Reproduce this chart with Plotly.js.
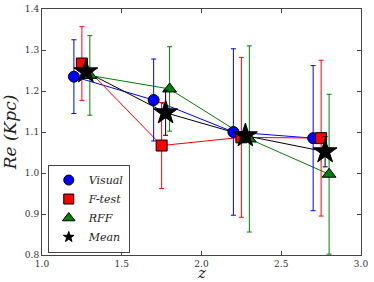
<!DOCTYPE html>
<html>
<head>
<meta charset="utf-8">
<script src="https://cdn.plot.ly/plotly-3.0.1.min.js"></script>
<style>html,body{margin:0;padding:0;background:#fff;}#plot{width:374px;height:282px;}</style>
</head>
<body>
<div id="plot"></div>
<script>
// Data
const seriesNames = ["Visual", "F-test", "RFF", "Mean"];
const zVisual = [1.2, 1.7, 2.2, 2.7];
const reVisual = [1.235, 1.178, 1.100, 1.085];
const errVisual = [0.090, 0.100, 0.203, 0.177];

const zFtest = [1.25, 1.75, 2.25, 2.75];
const reFtest = [1.267, 1.067, 1.087, 1.085];
const errFtest = [0.090, 0.105, 0.195, 0.190];

const zRFF = [1.3, 1.8, 2.3, 2.8];
const reRFF = [1.238, 1.205, 1.083, 0.997];
const errRFF = [0.097, 0.103, 0.227, 0.195];

const zMean = [1.275, 1.775, 2.275, 2.775];
const reMean = [1.247, 1.147, 1.091, 1.052];
const errMean = [0.008, 0.055, 0.008, 0.037];

const xTicks = [1.0, 1.5, 2.0, 2.5, 3.0];
const yTicks = [0.8, 0.9, 1.0, 1.1, 1.2, 1.3, 1.4];
const xTitle = "z";
const yTitle = "Re (Kpc)";

const serif = "DejaVu Serif";
const styles = [
  {color: "#0000ff", symbol: "circle", size: 11, lsize: 10},
  {color: "#ff0000", symbol: "square", size: 11, lsize: 10},
  {color: "#008000", symbol: "triangle-up", size: 12, lsize: 11},
  {color: "#000000", symbol: "star", size: 18, lsize: 8}
];
const xs = [zVisual, zFtest, zRFF, zMean];
const ys = [reVisual, reFtest, reRFF, reMean];
const es = [errVisual, errFtest, errRFF, errMean];

const traces = [];
// connecting lines
for (let i = 0; i < 4; i++) {
  traces.push({x: xs[i], y: ys[i], mode: "lines", type: "scatter",
    line: {color: styles[i].color, width: 1}, showlegend: false, hoverinfo: "skip"});
}
// markers with error bars
for (let i = 0; i < 4; i++) {
  traces.push({x: xs[i], y: ys[i], mode: "markers", type: "scatter",
    marker: {color: styles[i].color, symbol: styles[i].symbol, size: styles[i].size,
             line: {color: "#000", width: 1}},
    error_y: {type: "data", array: es[i], visible: true, color: styles[i].color, thickness: 1, width: 2.5},
    showlegend: false});
}
// legend entries (marker only)
for (let i = 0; i < 4; i++) {
  traces.push({x: [null], y: [null], mode: "markers", type: "scatter", name: "<i>" + seriesNames[i] + "</i>",
    marker: {color: styles[i].color, symbol: styles[i].symbol, size: styles[i].lsize,
             line: {color: "#000", width: 1}}, showlegend: true});
}

const axisCommon = {
  showgrid: false, zeroline: false, showline: true, mirror: "ticks",
  linecolor: "#444", linewidth: 1, ticks: "inside", ticklen: 4, tickcolor: "#444",
  tickfont: {family: serif, size: 9, color: "#333"}, tickformat: ".1f"
};

const layout = {
  width: 374, height: 282,
  margin: {l: 42, r: 13, t: 9, b: 27},
  paper_bgcolor: "#fff", plot_bgcolor: "#fff",
  xaxis: Object.assign({}, axisCommon, {range: [1.0, 3.0], tickvals: xTicks}),
  yaxis: Object.assign({}, axisCommon, {range: [0.8, 1.4], tickvals: yTicks,
    title: {text: "<i>" + yTitle + "</i>", font: {family: serif, size: 17, color: "#222"}, standoff: 4}}),
  annotations: [{text: "<i>" + xTitle + "</i>", xref: "paper", yref: "paper", x: 0.5, y: 0,
    xanchor: "center", yanchor: "top", yshift: -8, showarrow: false, borderpad: 0,
    font: {family: serif, size: 15, color: "#222"}}],
  legend: {x: 0.018, y: 0.01, xanchor: "left", yanchor: "bottom",
    bgcolor: "#fff", bordercolor: "#444", borderwidth: 1,
    font: {family: serif, size: 11, color: "#222"}, itemsizing: "trace",
    tracegroupgap: 0},
  showlegend: true
};

Plotly.newPlot("plot", traces, layout, {displayModeBar: false, staticPlot: true});
</script>
</body>
</html>
